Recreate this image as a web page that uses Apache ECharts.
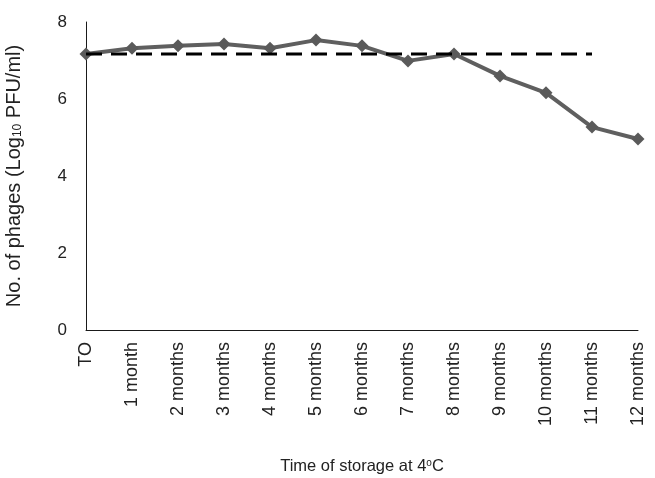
<!DOCTYPE html>
<html>
<head>
<meta charset="utf-8">
<script src="https://cdn.jsdelivr.net/npm/echarts@6/dist/echarts.min.js"></script>
<style>
  html, body { margin: 0; padding: 0; background: #fff; }
  #chart { width: 655px; height: 478px; }
</style>
</head>
<body>
<div id="chart"></div>
<script>
// ---- Data ----
const categories = ["TO", "1 month", "2 months", "3 months", "4 months", "5 months", "6 months",
  "7 months", "8 months", "9 months", "10 months", "11 months", "12 months"];
const phageCounts = [7.17, 7.32, 7.38, 7.43, 7.32, 7.53, 7.38, 6.99, 7.17, 6.60, 6.16, 5.27, 4.96];
// reference level (initial count), drawn up to 11 months
const baseline = [7.17, 7.17, 7.17, 7.17, 7.17, 7.17, 7.17, 7.17, 7.17, 7.17, 7.17, 7.17, null];
const yTicks = { min: 0, max: 8, interval: 2 };

const FONT = "Liberation Sans, Arial, sans-serif";
const INK = "#222";

const chart = echarts.init(document.getElementById("chart"));
chart.setOption({
  animation: false,
  textStyle: { fontFamily: FONT },
  grid: { left: 86, right: 17, top: 22, bottom: 148, containLabel: false, outerBoundsMode: "none" },
  xAxis: {
    type: "category",
    data: categories,
    boundaryGap: false,
    axisLine: { lineStyle: { color: "#1a1a1a", width: 1 } },
    axisTick: { show: false },
    axisLabel: { rotate: 90, color: INK, fontSize: 18, margin: 12, interval: 0, fontFamily: FONT },
    name: "{n|Time of storage at 4}{sup|o}{n|C}",
    nameLocation: "middle",
    nameGap: 128,
    nameTextStyle: {
      rich: {
        n: { fontSize: 16.5, color: INK, fontFamily: FONT },
        sup: { fontSize: 10, color: INK, fontFamily: FONT, verticalAlign: "top", padding: [0, 0, 7, 0] }
      }
    }
  },
  yAxis: {
    type: "value",
    min: yTicks.min,
    max: yTicks.max,
    interval: yTicks.interval,
    axisLine: { show: true, lineStyle: { color: "#1a1a1a", width: 1 } },
    axisTick: { show: false },
    splitLine: { show: false },
    axisLabel: { color: INK, fontSize: 17, margin: 19, fontFamily: FONT },
    name: "{n|No. of phages (Log}{sub|10}{n| PFU/ml)}",
    nameLocation: "middle",
    nameGap: 62,
    nameTextStyle: {
      rich: {
        n: { fontSize: 20, color: INK, fontFamily: FONT },
        sub: { fontSize: 12, color: INK, fontFamily: FONT, verticalAlign: "bottom", padding: [7, 0, 0, 0] }
      }
    }
  },
  series: [
    {
      name: "Phages",
      type: "line",
      data: phageCounts,
      symbol: "diamond",
      symbolSize: 13,
      z: 3,
      itemStyle: { color: "#5a5a5a" },
      lineStyle: { color: "#5f5f5f", width: 4 }
    },
    {
      name: "Baseline",
      type: "line",
      data: baseline,
      symbol: "none",
      z: 4,
      lineStyle: { color: "#000", width: 3, type: [16, 9] }
    }
  ]
});
</script>
</body>
</html>
